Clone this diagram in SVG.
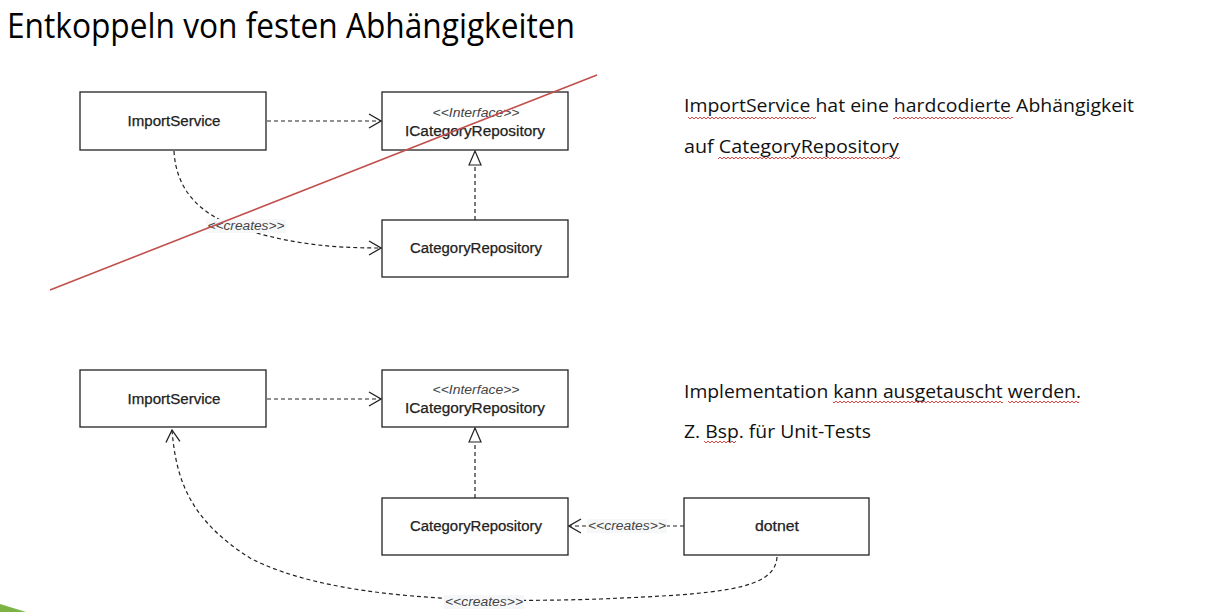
<svg xmlns="http://www.w3.org/2000/svg" width="1220" height="612" viewBox="0 0 1220 612">
<style>
.box{fill:#fff;stroke:#222;stroke-width:1.3}
.name{font-family:"Liberation Sans",Arial,sans-serif;font-size:14px;fill:#222;stroke:#222;stroke-width:0.25;text-anchor:middle}
.stereo{font-family:"Liberation Sans",Arial,sans-serif;font-size:12px;font-style:italic;fill:#444;text-anchor:middle}
.dep{fill:none;stroke:#222;stroke-width:1.2;stroke-dasharray:4 3}
.lbl{font-family:"Liberation Sans",Arial,sans-serif;font-size:12px;font-style:italic;fill:#444;text-anchor:middle}
.lblbg{fill:#f6f7f9}
.txt{font-family:"Open Sans","Noto Sans",sans-serif;font-size:19px;fill:#111}
.title{font-family:"Open Sans","Noto Sans",sans-serif;font-size:34px;fill:#000}
.wave{fill:url(#wavy)}
</style>
<defs>
<marker id="open" viewBox="0 0 14 16" refX="13" refY="8" markerWidth="14" markerHeight="16" markerUnits="userSpaceOnUse" orient="auto">
<path d="M1,1 L13,8 L1,15" fill="none" stroke="#222" stroke-width="1.3"/>
</marker>
<marker id="tri" viewBox="0 0 16 14" refX="15" refY="7" markerWidth="16" markerHeight="14" markerUnits="userSpaceOnUse" orient="auto">
<path d="M1,1 L15,7 L1,13 Z" fill="#fff" stroke="#222" stroke-width="1.2"/>
</marker>
<pattern id="wavy" x="0" y="0" width="4" height="4" patternUnits="userSpaceOnUse">
<path d="M0,1 L2,3 L4,1" fill="none" stroke="#e03030" stroke-width="0.9"/>
</pattern>
</defs>

<text class="title" x="7" y="38" textLength="568" lengthAdjust="spacingAndGlyphs">Entkoppeln von festen Abhängigkeiten</text>

<g id="connectors">
<!-- top -->
<path class="dep" d="M267,121 L381,121" marker-end="url(#open)"/>
<path class="dep" d="M475,220 L475,151" marker-end="url(#tri)"/>
<path class="dep" d="M174,151 C176,190 200,215 240,228 C290,244 330,248 381,248" marker-end="url(#open)"/>
<rect class="lblbg" x="206" y="219" width="80" height="14"/>
<text class="lbl" x="246" y="230" textLength="77" lengthAdjust="spacingAndGlyphs">&lt;&lt;creates&gt;&gt;</text>
<!-- bottom -->
<path class="dep" d="M267,399 L381,399" marker-end="url(#open)"/>
<path class="dep" d="M475,498 L475,428" marker-end="url(#tri)"/>
<path class="dep" d="M684,526 L569,526" marker-end="url(#open)"/>
<rect class="lblbg" x="587" y="519" width="80" height="14"/>
<text class="lbl" x="627" y="530" textLength="78" lengthAdjust="spacingAndGlyphs">&lt;&lt;creates&gt;&gt;</text>
<path class="dep" d="M777,557 C775,590 720,594 600,599 C480,603 330,600 250,558 C190,520 176,480 172,430" marker-end="url(#open)"/>
<rect class="lblbg" x="444" y="595" width="80" height="14"/>
<text class="lbl" x="484" y="606" textLength="78" lengthAdjust="spacingAndGlyphs">&lt;&lt;creates&gt;&gt;</text>
</g>

<g id="top-importservice"><rect class="box" x="80" y="92" width="186" height="58"/><text class="name" x="174" y="126" textLength="93" lengthAdjust="spacingAndGlyphs">ImportService</text></g>
<g id="top-icategoryrepository"><rect class="box" x="382" y="92" width="186" height="58"/><text class="stereo" x="476" y="117" textLength="87" lengthAdjust="spacingAndGlyphs">&lt;&lt;Interface&gt;&gt;</text><text class="name" x="475" y="136" textLength="140" lengthAdjust="spacingAndGlyphs">ICategoryRepository</text></g>
<g id="top-categoryrepository"><rect class="box" x="382" y="220" width="186" height="57"/><text class="name" x="476" y="253" textLength="132" lengthAdjust="spacingAndGlyphs">CategoryRepository</text></g>

<g id="bottom-importservice"><rect class="box" x="80" y="370" width="186" height="57"/><text class="name" x="174" y="404" textLength="93" lengthAdjust="spacingAndGlyphs">ImportService</text></g>
<g id="bottom-icategoryrepository"><rect class="box" x="382" y="370" width="186" height="57"/><text class="stereo" x="476" y="394" textLength="87" lengthAdjust="spacingAndGlyphs">&lt;&lt;Interface&gt;&gt;</text><text class="name" x="475" y="413" textLength="140" lengthAdjust="spacingAndGlyphs">ICategoryRepository</text></g>
<g id="bottom-categoryrepository"><rect class="box" x="382" y="498" width="186" height="57"/><text class="name" x="476" y="531" textLength="132" lengthAdjust="spacingAndGlyphs">CategoryRepository</text></g>
<g id="bottom-dotnet"><rect class="box" x="684" y="498" width="185" height="57"/><text class="name" x="777" y="531" textLength="44" lengthAdjust="spacingAndGlyphs">dotnet</text></g>

<line id="strike" x1="50" y1="290" x2="597" y2="75" stroke="#C0504D" stroke-width="1.6"/>

<g id="notes">
<text class="txt" x="684" y="112" textLength="450" lengthAdjust="spacingAndGlyphs">ImportService hat eine hardcodierte Abhängigkeit</text>
<text class="txt" x="684" y="153" textLength="215" lengthAdjust="spacingAndGlyphs">auf CategoryRepository</text>
<text class="txt" x="684" y="398" textLength="397" lengthAdjust="spacingAndGlyphs">Implementation kann ausgetauscht werden.</text>
<text class="txt" x="684" y="438" textLength="187" lengthAdjust="spacingAndGlyphs">Z. Bsp. für Unit-Tests</text>
<rect class="wave" x="688" y="116" width="128" height="4"/>
<rect class="wave" x="893" y="116" width="120" height="4"/>
<rect class="wave" x="718" y="157" width="182" height="4"/>
<rect class="wave" x="833" y="401" width="170" height="4"/>
<rect class="wave" x="1008" y="401" width="71" height="4"/>
<rect class="wave" x="704" y="441" width="32" height="4"/>
</g>

<path d="M0,604 L26,612 L0,612 Z" fill="#7CB342"/>
</svg>
